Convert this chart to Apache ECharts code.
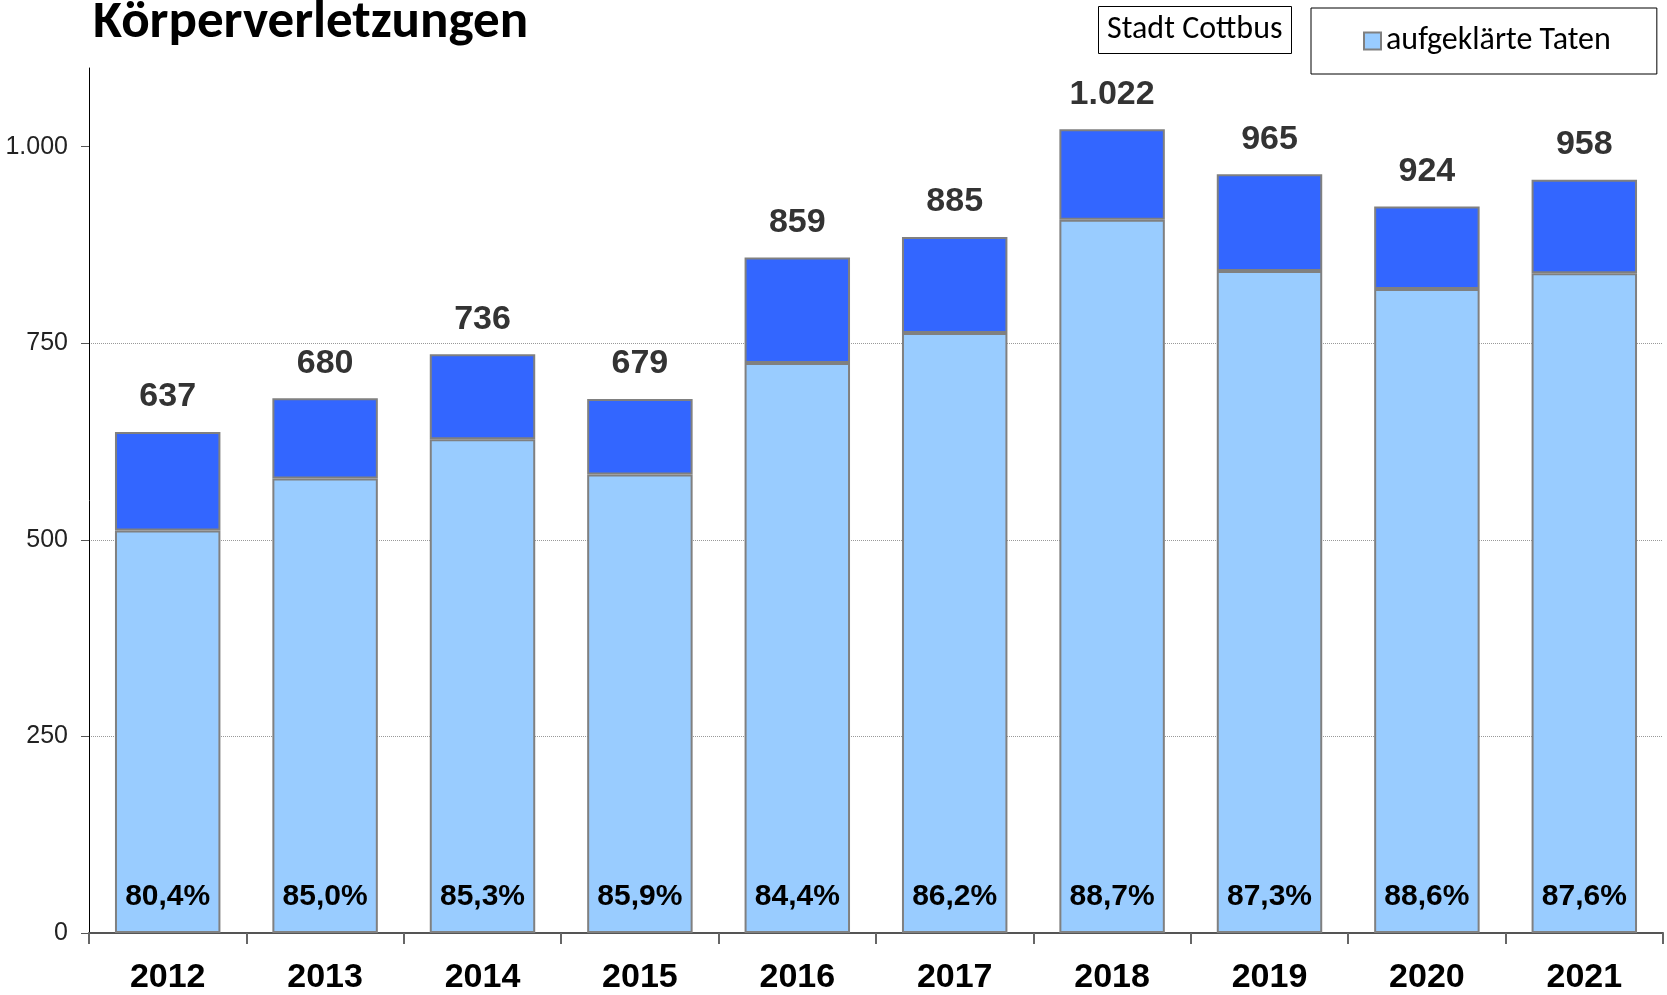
<!DOCTYPE html>
<html>
<head>
<meta charset="utf-8">
<script src="https://cdn.jsdelivr.net/npm/echarts@6/dist/echarts.min.js"></script>
<style>
  html, body { margin: 0; padding: 0; background: #fff; }
  #main { width: 1667px; height: 995px; }
</style>
</head>
<body>
<div id="main"></div>
<script>
// Jahre und Fallzahlen
var years = ['2012', '2013', '2014', '2015', '2016', '2017', '2018', '2019', '2020', '2021']
var total = [637, 680, 736, 679, 859, 885, 1022, 965, 924, 958]
var cleared = [512, 578, 628, 583, 725, 763, 907, 842, 819, 839] // aufgeklärte Taten
var open = [125, 102, 108, 96, 134, 122, 115, 123, 105, 119] // nicht aufgeklärt
var rate = [80.4, 85.0, 85.3, 85.9, 84.4, 86.2, 88.7, 87.3, 88.6, 87.6] // Aufklärungsquote
var yTicks = [0, 250, 500, 750, 1000]

var narrow = '"Liberation Sans Narrow", "Arial Narrow", "Liberation Sans", sans-serif'
var arial = '"Liberation Sans", Arial, sans-serif'
var calibri = 'Carlito, Lato, "Open Sans", sans-serif'

function fmtDE(v) {
  return String(v).replace(/\B(?=(\d{3})+(?!\d))/g, '.')
}

var myChart = echarts.init(document.getElementById('main'))
myChart.setOption({
  animation: false,
  title: [
    {
      text: 'Körperverletzungen',
      left: 88,
      top: -8,
      textStyle: { fontFamily: calibri, fontSize: 53, fontWeight: 'bold', color: '#000' }
    },
    {
      text: 'Stadt Cottbus',
      left: 1098,
      top: 6,
      padding: [8, 9, 8, 9],
      borderColor: '#000',
      borderWidth: 1,
      textStyle: { fontFamily: calibri, fontSize: 32, fontWeight: 'normal', color: '#000' }
    }
  ],
  legend: {
    data: ['aufgeklärte Taten'],
    left: 1311,
    top: 8,
    padding: [17, 46, 17, 52],
    borderColor: '#000',
    borderWidth: 1,
    itemWidth: 17,
    itemHeight: 17,
    itemGap: 0,
    icon: 'rect',
    textStyle: { fontFamily: calibri, fontSize: 32, color: '#000' }
  },
  grid: {
    left: 89,
    right: 4,
    top: 68,
    bottom: 60,
    containLabel: false
  },
  xAxis: {
    type: 'category',
    data: years,
    axisLine: { lineStyle: { color: '#555', width: 2 } },
    axisTick: { show: true, length: 11, lineStyle: { color: '#666', width: 2 } },
    axisLabel: {
      margin: 28,
      fontFamily: arial,
      fontSize: 34,
      fontWeight: 'bold',
      color: '#000'
    }
  },
  yAxis: {
    type: 'value',
    min: 0,
    max: 1100,
    interval: 250,
    axisLine: { show: true, lineStyle: { color: '#000', width: 1 } },
    axisTick: { show: true, inside: false, length: 8, customValues: yTicks, lineStyle: { color: '#555' } },
    splitLine: { show: true, showMaxLine: false, lineStyle: { color: '#999', type: 'dotted', width: 1 } },
    axisLabel: {
      customValues: yTicks,
      margin: 21,
      fontFamily: narrow,
      fontSize: 25,
      color: '#222',
      formatter: function(v) { return fmtDE(v) }
    }
  },
  series: [
    {
      name: 'aufgeklärte Taten',
      type: 'bar',
      stack: 'gesamt',
      barWidth: '67%',
      data: cleared,
      itemStyle: { color: '#99CCFF', borderColor: '#808080', borderWidth: 2 },
      label: {
        show: true,
        position: 'insideBottom',
        distance: 21,
        fontFamily: arial,
        fontSize: 30,
        fontWeight: 'bold',
        color: '#000',
        formatter: function(p) { return rate[p.dataIndex].toFixed(1).replace('.', ',') + '%' }
      }
    },
    {
      name: 'nicht aufgeklärt',
      type: 'bar',
      stack: 'gesamt',
      data: open,
      itemStyle: { color: '#3366FF', borderColor: '#808080', borderWidth: 2 },
      label: {
        show: true,
        position: 'top',
        distance: 18,
        fontFamily: narrow,
        fontSize: 34,
        fontWeight: 'bold',
        color: '#333',
        formatter: function(p) { return fmtDE(total[p.dataIndex]) }
      }
    }
  ]
})
</script>
</body>
</html>
